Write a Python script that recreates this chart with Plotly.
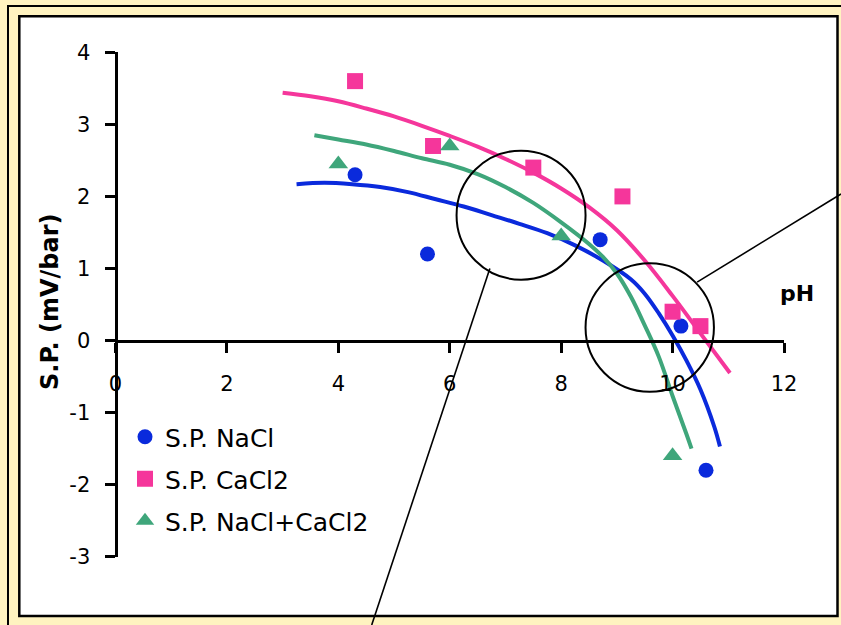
import plotly.graph_objects as go

# ---------------- data ----------------
nacl_x = [4.3, 5.6, 8.7, 10.15, 10.6]
nacl_y = [2.3, 1.2, 1.4, 0.2, -1.8]

cacl2_x = [4.3, 5.7, 7.5, 9.1, 10.0, 10.5]
cacl2_y = [3.6, 2.7, 2.4, 2.0, 0.4, 0.2]

mix_x = [4.0, 6.0, 8.0, 10.0]
mix_y = [2.45, 2.7, 1.45, -1.6]

# trend curves
nacl_fit_x = [3.25, 3.75, 4.25, 4.75, 5.25, 5.75, 6.25, 6.75, 7.25, 7.75, 8.25, 8.75,
              9.25, 9.5, 9.75, 10.0, 10.25, 10.5, 10.75, 10.85]
nacl_fit_y = [2.17, 2.19, 2.17, 2.13, 2.06, 1.96, 1.86, 1.74, 1.62, 1.49, 1.32, 1.11,
              0.85, 0.65, 0.38, 0.07, -0.28, -0.68, -1.20, -1.47]

cacl2_fit_x = [3.0, 3.5, 4.0, 4.5, 5.0, 5.5, 6.0, 6.5, 7.0, 7.5, 8.0, 8.5, 9.0, 9.5, 10.0, 10.5, 11.03]
cacl2_fit_y = [3.44, 3.39, 3.32, 3.22, 3.11, 2.98, 2.84, 2.69, 2.52, 2.33, 2.11, 1.85, 1.53, 1.11, 0.62, 0.10, -0.45]

mix_fit_x = [3.57, 4.0, 4.5, 5.0, 5.5, 6.0, 6.5, 7.0, 7.5, 8.0, 8.5, 8.75, 9.0, 9.25, 9.5, 9.75,
             10.0, 10.25, 10.34]
mix_fit_y = [2.85, 2.79, 2.72, 2.63, 2.53, 2.44, 2.31, 2.13, 1.91, 1.64, 1.34, 1.16, 0.93, 0.61, 0.21, -0.22,
             -0.77, -1.30, -1.50]

x_ticks = [0, 2, 4, 6, 8, 10, 12]
y_ticks = [-3, -2, -1, 0, 1, 2, 3, 4]

BLUE = "#0A2ADC"
PINK = "#F5369B"
GREEN = "#3FA67B"
PAPER = "#FFF3C0"

W, H = 841, 625
# plot area in pixels
PX0, PX1 = 115.5, 784.0
PY_TOP, PY_BOT = 52.3, 556.7
XR = [0, 12]
YR = [-3, 4]

def px2paper(px, py):
    return px / W, 1 - py / H

def data2px(x, y):
    px = PX0 + (x - XR[0]) / (XR[1] - XR[0]) * (PX1 - PX0)
    py = PY_BOT - (y - YR[0]) / (YR[1] - YR[0]) * (PY_BOT - PY_TOP)
    return px, py

fig = go.Figure()

for fx, fy, c in [(nacl_fit_x, nacl_fit_y, BLUE), (cacl2_fit_x, cacl2_fit_y, PINK), (mix_fit_x, mix_fit_y, GREEN)]:
    fig.add_trace(go.Scatter(x=fx, y=fy, mode="lines", line=dict(color=c, width=4, shape="spline", smoothing=1.0),
                             showlegend=False, hoverinfo="skip", cliponaxis=False))

fig.add_trace(go.Scatter(x=nacl_x, y=nacl_y, mode="markers", name="S.P. NaCl", legendgroup="a",
                         marker=dict(symbol="circle", size=15, color=BLUE), cliponaxis=False))
fig.add_trace(go.Scatter(x=cacl2_x, y=cacl2_y, mode="markers", name="S.P. CaCl2", legendgroup="b",
                         marker=dict(symbol="square", size=16, color=PINK), cliponaxis=False))
fig.add_trace(go.Scatter(x=mix_x, y=mix_y, mode="markers", name="S.P. NaCl+CaCl2", legendgroup="c",
                         marker=dict(symbol="triangle-up", size=17, color=GREEN), cliponaxis=False))

shapes = []
# outer frame
ox0, oy0 = px2paper(8, 6)
ox1, oy1 = px2paper(900, 700)
shapes.append(dict(type="rect", xref="paper", yref="paper", x0=ox0, y0=oy1, x1=ox1, y1=oy0,
                   line=dict(color="black", width=2), fillcolor=PAPER, layer="below"))
# inner white box
ix0, iy0 = px2paper(19.3, 16.2)
ix1, iy1 = px2paper(837.5, 616.0)
shapes.append(dict(type="rect", xref="paper", yref="paper", x0=ix0, y0=iy1, x1=ix1, y1=iy0,
                   line=dict(color="black", width=2.5), fillcolor="white", layer="below"))

# highlight circles (data units)
def circ(cx, cy, rpx):
    rx = rpx / (PX1 - PX0) * (XR[1] - XR[0])
    ry = rpx / (PY_BOT - PY_TOP) * (YR[1] - YR[0])
    return dict(type="circle", xref="x", yref="y", x0=cx - rx, x1=cx + rx, y0=cy - ry, y1=cy + ry,
                line=dict(color="black", width=2), layer="above")

shapes.append(circ(7.28, 1.74, 64.5))
shapes.append(circ(9.59, 0.18, 64.2))

# connector lines (paper units, they run off the white box)
def seg(p1, p2):
    a = px2paper(*p1)
    b = px2paper(*p2)
    return dict(type="line", xref="paper", yref="paper", x0=a[0], y0=a[1], x1=b[0], y1=b[1],
                line=dict(color="black", width=1.6), layer="above")

shapes.append(seg(data2px(6.72, 1.0), (371.7, 625)))
shapes.append(seg(data2px(10.44, 0.81), (841, 194)))

dx0 = PX0 / W
dx1 = PX1 / W
dy0 = 1 - PY_BOT / H
dy1 = 1 - PY_TOP / H
x_axis_pos = 1 - data2px(0, 0)[1] / H
y_axis_pos = dx0

tick_font = dict(family="DejaVu Sans", size=21, color="black")

fig.update_layout(
    width=W, height=H,
    margin=dict(l=0, r=0, t=0, b=0, autoexpand=False),
    paper_bgcolor=PAPER,
    plot_bgcolor="rgba(0,0,0,0)",
    shapes=shapes,
    xaxis=dict(domain=[dx0, dx1], range=XR, anchor="free", position=x_axis_pos, automargin=False,
               showgrid=False, zeroline=False, showline=True, linecolor="black", linewidth=3,
               ticks="outside", ticklen=10, tickwidth=3, tickcolor="black",
               tickvals=x_ticks, ticktext=[str(v) for v in x_ticks], tickfont=tick_font,
               ticklabelstandoff=13),
    yaxis=dict(domain=[dy0, dy1], range=YR, anchor="free", position=y_axis_pos, automargin=False,
               showgrid=False, zeroline=False, showline=True, linecolor="black", linewidth=3,
               ticks="outside", ticklen=10, tickwidth=3, tickcolor="black",
               tickvals=y_ticks, ticktext=[str(v) for v in y_ticks], tickfont=tick_font,
               ticklabelstandoff=10),
    legend=dict(x=125 / W, y=1 - 414 / H, xanchor="left", yanchor="top",
                bgcolor="rgba(0,0,0,0)", font=dict(family="Comic Sans MS, DejaVu Sans", size=25, color="black"),
                tracegroupgap=6.5, traceorder="grouped"),
    annotations=[
        dict(text="<b>S.P. (mV/bar)</b>", xref="paper", yref="paper", x=50 / W, y=1 - 302 / H,
             textangle=-90, showarrow=False, font=dict(family="DejaVu Sans", size=24, color="black"),
             xanchor="center", yanchor="middle"),
        dict(text="<b>pH</b>", xref="paper", yref="paper", x=797 / W, y=1 - 293 / H,
             showarrow=False, font=dict(family="DejaVu Sans", size=22, color="black"),
             xanchor="center", yanchor="middle"),
    ],
)

fig.write_html("out.html")
